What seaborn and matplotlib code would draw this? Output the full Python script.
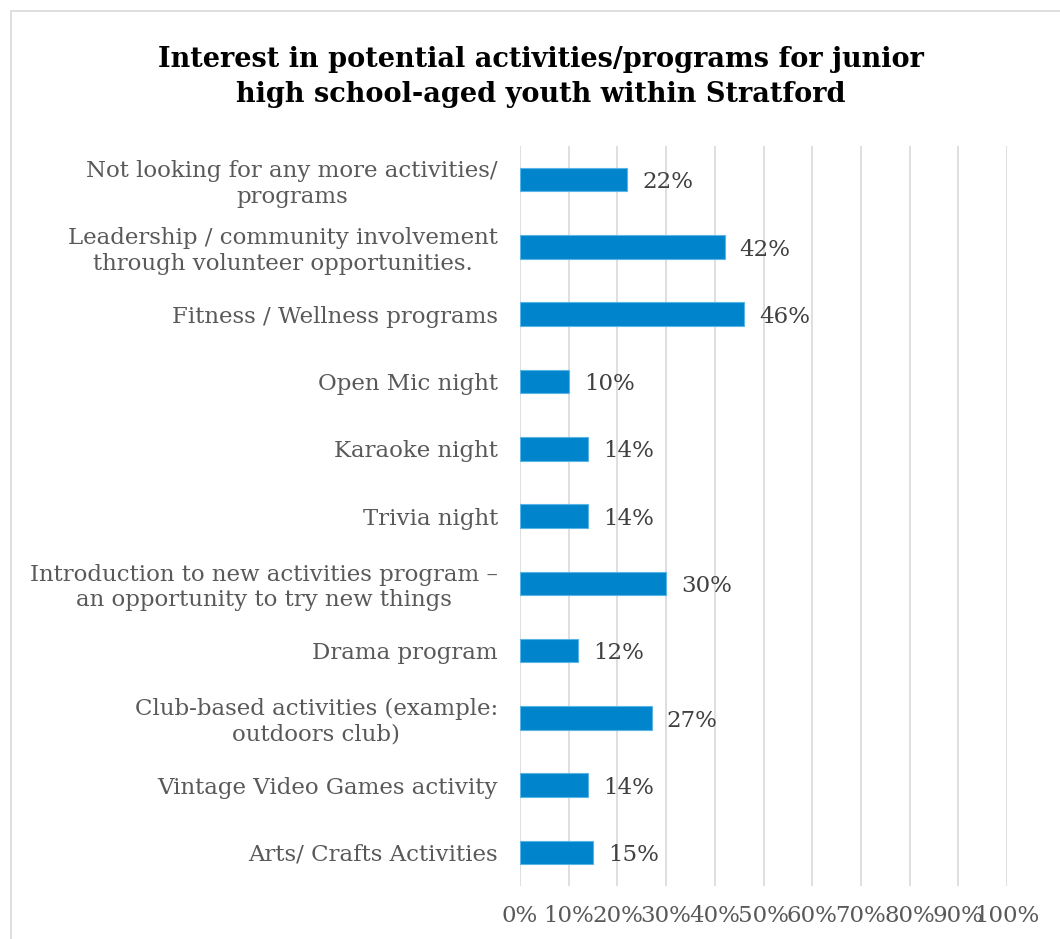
import matplotlib
matplotlib.use("Agg")
import matplotlib.pyplot as plt
import matplotlib.patches as mpatches
import seaborn as sns
import pandas as pd

categories = [
    "Not looking for any more activities/\nprograms",
    "Leadership / community involvement\nthrough volunteer opportunities.",
    "Fitness / Wellness programs",
    "Open Mic night",
    "Karaoke night",
    "Trivia night",
    "Introduction to new activities program \u2013\nan opportunity to try new things",
    "Drama program",
    "Club-based activities (example:\noutdoors club)",
    "Vintage Video Games activity",
    "Arts/ Crafts Activities",
]
values = [22, 42, 46, 10, 14, 14, 30, 12, 27, 14, 15]
x_ticks = [0, 10, 20, 30, 40, 50, 60, 70, 80, 90, 100]

title = "Interest in potential activities/programs for junior\nhigh school-aged youth within Stratford"

sns.set_theme(style="white")
plt.rcParams["font.family"] = ["DejaVu Serif"]

df = pd.DataFrame({"activity": categories, "pct": values})

fig = plt.figure(figsize=(10.6, 9.39), dpi=100)
ax = fig.add_axes([0.4906, 0.0564, 0.4594, 0.7881])

sns.barplot(data=df, y="activity", x="pct", orient="h", color="#0084CC",
            saturation=1, width=0.35, edgecolor="#5AB4E5", linewidth=0.8,
            ax=ax, zorder=3)

ax.set_xlim(0, 100)
ax.set_xticks(x_ticks)
ax.set_xticklabels([f"{t}%" for t in x_ticks])
ax.set_xlabel("")
ax.set_ylabel("")
ax.grid(axis="x", color="#D9D9D9", linewidth=1.2, zorder=0)
ax.grid(axis="y", visible=False)
for s in ax.spines.values():
    s.set_visible(False)

ax.tick_params(axis="x", length=0, pad=14, labelsize=16.5, labelcolor="#595959")
ax.tick_params(axis="y", length=0, pad=16, labelsize=16.5, labelcolor="#595959")
for lbl in ax.get_yticklabels():
    lbl.set_multialignment("center")
    lbl.set_linespacing(1.2)

for i, v in enumerate(values):
    ax.text(v + 3.1, i + 0.04, f"{v}%", va="center", ha="left",
            fontsize=16.5, color="#404040")

fig.text(0.51, 0.918, title, ha="center", va="center", fontsize=19.5,
         fontweight="bold", color="black", linespacing=1.38)

# light frame around the chart area
frame = mpatches.Rectangle((11 / 1060, -0.05), 1.2, 1 - 11 / 939 + 0.05,
                           transform=fig.transFigure, fill=False,
                           edgecolor="#D9D9D9", linewidth=1.2)
fig.patches.append(frame)

fig.savefig("out.png", dpi=100, facecolor="white")
